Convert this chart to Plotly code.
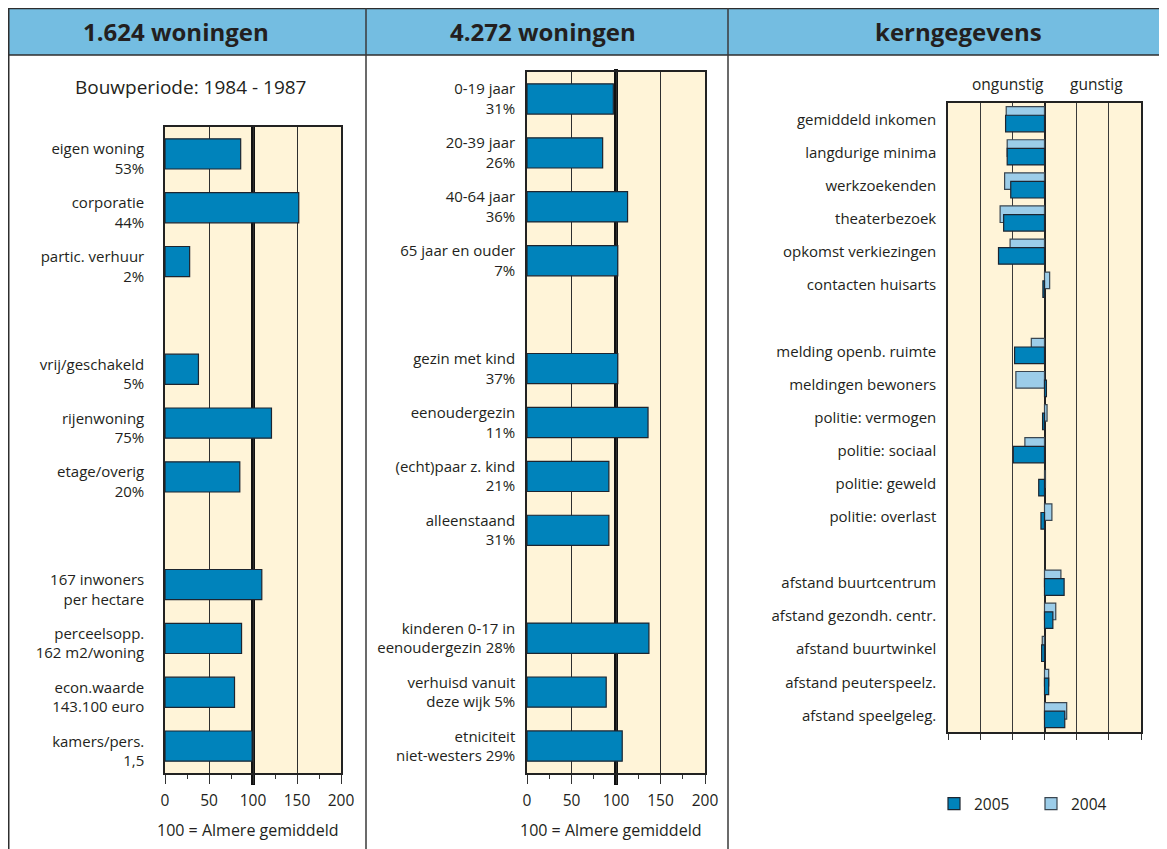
import plotly.graph_objects as go

# page body adds an 8px margin, so the figure is sized to fit the window
OFF = 8
W, H = 1167 - OFF, 849 - OFF

# panel 1: woningen
woning_labels = [
    "eigen woning<br>53%", "corporatie<br>44%", "partic. verhuur<br>2%", "",
    "vrij/geschakeld<br>5%", "rijenwoning<br>75%", "etage/overig<br>20%", "",
    "167 inwoners<br>per hectare", "perceelsopp.<br>162 m2/woning",
    "econ.waarde<br>143.100 euro", "kamers/pers.<br>1,5",
]
woning_values = [86, 152, 28, None, 38, 121, 85, None, 110, 87, 79, 99]

# panel 2: bewoners
bewoner_labels = [
    "0-19 jaar<br>31%", "20-39 jaar<br>26%", "40-64 jaar<br>36%",
    "65 jaar en ouder<br>7%", "",
    "gezin met kind<br>37%", "eenoudergezin<br>11%", "(echt)paar z. kind<br>21%",
    "alleenstaand<br>31%", "",
    "kinderen 0-17 in<br>eenoudergezin 28%", "verhuisd vanuit<br>deze wijk 5%",
    "etniciteit<br>niet-westers 29%",
]
bewoner_values = [97, 85, 113, 102, None, 102, 136, 92, 92, None, 137, 89, 107]

# panel 3: kerngegevens
kern_labels = [
    "gemiddeld inkomen", "langdurige minima", "werkzoekenden", "theaterbezoek",
    "opkomst verkiezingen", "contacten huisarts", "",
    "melding openb. ruimte", "meldingen bewoners", "politie: vermogen",
    "politie: sociaal", "politie: geweld", "politie: overlast", "",
    "afstand buurtcentrum", "afstand gezondh. centr.", "afstand buurtwinkel",
    "afstand peuterspeelz.", "afstand speelgeleg.",
]
kern_2005 = [-1.21, -1.16, -1.05, -1.27, -1.43, -0.05, None,
             -0.93, 0.06, -0.06, -0.97, -0.18, -0.11, None,
             0.61, 0.26, -0.09, 0.13, 0.63]
kern_2004 = [-1.19, -1.16, -1.24, -1.38, -1.07, 0.16, None,
             -0.41, -0.89, 0.08, -0.61, 0.03, 0.23, None,
             0.51, 0.35, -0.07, 0.13, 0.69]

headers = ["1.624 woningen", "4.272 woningen", "kerngegevens"]
x_ticks = [0, 50, 100, 150, 200]
ref_value = 100

DARK = "#0083BB"
LIGHT = "#9CCDE9"
EDGE = "#1d2530"
CREAM = "#FFF4D8"
BAND = "#74BDE1"
INK = "#231f20"
FONT = "Open Sans"


def px(x):
    return (x - OFF) / W


def py(y):
    return 1 - (y - OFF) / H


fig = go.Figure()

fig.add_trace(go.Bar(
    x=woning_values, y=list(range(len(woning_labels))), orientation="h",
    width=0.56, marker=dict(color=DARK, line=dict(color=EDGE, width=1.2)),
    xaxis="x", yaxis="y", showlegend=False,
))
fig.add_trace(go.Bar(
    x=bewoner_values, y=list(range(len(bewoner_labels))), orientation="h",
    width=0.56, marker=dict(color=DARK, line=dict(color=EDGE, width=1.2)),
    xaxis="x2", yaxis="y2", showlegend=False,
))
fig.add_trace(go.Bar(
    x=kern_2004, y=list(range(len(kern_labels))), orientation="h", name="2004",
    width=0.5, offset=-0.39, legendrank=2,
    marker=dict(color=LIGHT, line=dict(color="#3a4650", width=1.2)),
    xaxis="x3", yaxis="y3",
))
fig.add_trace(go.Bar(
    x=kern_2005, y=list(range(len(kern_labels))), orientation="h", name="2005",
    width=0.5, offset=-0.13, legendrank=1,
    marker=dict(color=DARK, line=dict(color=EDGE, width=1.2)),
    xaxis="x3", yaxis="y3",
))

tick_font = dict(family=FONT, size=15.5, color=INK)
label_font = dict(family=FONT, size=15, color=INK)

value_axis = dict(
    range=[0, 200], tickvals=x_ticks, ticks="outside", ticklen=9, tickwidth=1.2,
    tickcolor="#333", tickfont=tick_font, ticklabelstandoff=4,
    minor=dict(dtick=25, ticks="outside", ticklen=4, tickcolor="#333", showgrid=False),
    showgrid=True, gridcolor="#2e2e2e", gridwidth=1.3, zeroline=False,
    showline=True, linecolor="#222", linewidth=1.5, mirror=True,
    fixedrange=True, automargin=False,
)

fig.update_layout(
    width=W, height=H, margin=dict(l=0, r=0, t=0, b=0, pad=0, autoexpand=False),
    paper_bgcolor="white", plot_bgcolor=CREAM,
    barmode="overlay", font=dict(family=FONT, color=INK),
    xaxis=dict(value_axis, domain=[px(165), px(341)], anchor="y"),
    yaxis=dict(
        domain=[py(773), py(127)], anchor="x", range=[len(woning_labels) - 0.5, -0.5],
        tickvals=list(range(len(woning_labels))), ticktext=woning_labels,
        ticks="outside", ticklen=16, tickcolor="rgba(0,0,0,0)", tickfont=label_font,
        ticklabelshift=-5,
        showgrid=False, zeroline=False, showline=True, linecolor="#222",
        linewidth=1.5, mirror=True, automargin=False,
    ),
    xaxis2=dict(value_axis, domain=[px(527), px(705)], anchor="y2"),
    yaxis2=dict(
        domain=[py(773), py(72)], anchor="x2", range=[len(bewoner_labels) - 0.5, -0.5],
        tickvals=list(range(len(bewoner_labels))), ticktext=bewoner_labels,
        ticks="outside", ticklen=7, tickcolor="rgba(0,0,0,0)", tickfont=label_font,
        showgrid=False, zeroline=False, showline=True, linecolor="#222",
        linewidth=1.5, mirror=True, automargin=False,
    ),
    xaxis3=dict(
        domain=[px(948), px(1141)], anchor="y3", range=[-3, 3], dtick=1,
        ticks="outside", ticklen=6, tickcolor="#333", showticklabels=False,
        showgrid=True, gridcolor="#3a3a3a", gridwidth=1.1,
        zeroline=True, zerolinecolor="#222", zerolinewidth=2.2,
        showline=True, linecolor="#222", linewidth=1.5, mirror=True, automargin=False,
    ),
    yaxis3=dict(
        domain=[py(732), py(103)], anchor="x3", range=[len(kern_labels) - 0.5, -0.5],
        tickvals=list(range(len(kern_labels))), ticktext=kern_labels,
        ticks="outside", ticklen=7, tickcolor="rgba(0,0,0,0)", tickfont=label_font,
        showgrid=False, zeroline=False, showline=True, linecolor="#222",
        linewidth=1.5, mirror=True, automargin=False,
    ),
    legend=dict(
        orientation="h", x=px(934), y=py(787), xanchor="left", yanchor="top",
        font=dict(family=FONT, size=15.5, color=INK), entrywidth=52,
        entrywidthmode="pixels", bgcolor="rgba(0,0,0,0)", traceorder="normal",
    ),
)

# frame: header band and column separators
shapes = [
    dict(type="rect", xref="paper", yref="paper", x0=px(8), x1=1, y0=py(55), y1=py(8),
         fillcolor=BAND, line=dict(width=0), layer="below"),
    dict(type="line", xref="paper", yref="paper", x0=px(8), x1=1, y0=py(8.5), y1=py(8.5),
         line=dict(color="#2e2e2e", width=1.5)),
    dict(type="line", xref="paper", yref="paper", x0=px(8), x1=1, y0=py(55), y1=py(55),
         line=dict(color="#2e2e2e", width=1.5)),
    dict(type="line", xref="paper", yref="paper", x0=px(8.5), x1=px(8.5), y0=0, y1=1,
         line=dict(color="#2e2e2e", width=2)),
]
for sx in (366, 728):
    shapes.append(dict(type="line", xref="paper", yref="paper", x0=px(sx), x1=px(sx),
                       y0=0, y1=py(8), line=dict(color="#3a3a3a", width=1.5)))
# Almere average reference line
for xr, top in (("x", 127), ("x2", 69)):
    shapes.append(dict(type="line", xref=xr, yref="paper", x0=ref_value, x1=ref_value,
                       y0=py(785), y1=py(top), line=dict(color="#111", width=4),
                       layer="below"))
fig.update_layout(shapes=shapes)


def text_at(text, cx, cy, size):
    return dict(text=text, x=px(cx), y=py(cy), xref="paper", yref="paper",
                xanchor="center", yanchor="middle", showarrow=False,
                font=dict(family=FONT, size=size, color=INK))


ann = [text_at(f"<b>{t}</b>", cx, 31, 24) for t, cx in zip(headers, (176, 543, 958))]
ann.append(text_at("Bouwperiode: 1984 - 1987", 190, 87, 19))
ann += [text_at("100 = Almere gemiddeld", cx, 830, 16) for cx in (247, 610)]
ann.append(text_at("ongunstig", 1008, 84, 15.5))
ann.append(text_at("gunstig", 1096, 84, 15.5))
fig.update_layout(annotations=ann)

fig.write_html("out.html")
